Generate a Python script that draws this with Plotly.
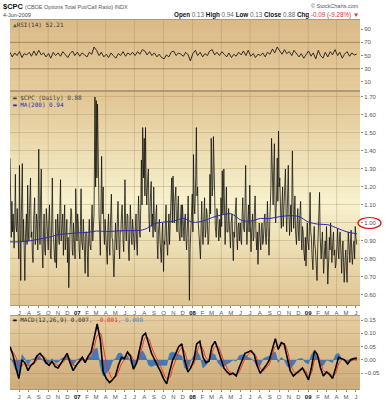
import plotly.graph_objects as go
import pandas as pd

# ---------------- data ----------------
START, END = "2006-06-02", "2009-06-04"
X_RANGE = ["2006-06-02", "2009-06-14"]

cpc_daily = [
    1.36, 1.05, 0.92, 1.12, 0.95, 1.05, 0.86, 1.00, 1.27, 0.98, 0.95, 1.08, 0.88, 0.80,  # Jun 06
    1.32, 0.95, 0.68, 1.05, 1.33, 0.90, 1.02, 0.85, 0.68, 0.92, 1.05, 0.88, 1.21, 0.95,  # Jul
    0.90, 1.08, 1.25, 0.92, 0.95, 0.82, 0.78, 1.02, 1.14, 0.88, 0.92, 1.05, 1.00, 0.85,  # Aug
    1.41, 1.02, 0.88, 1.15, 1.30, 0.90, 0.75, 0.95, 1.05, 0.85, 0.82, 1.08, 0.98, 0.88,  # Sep
    0.85, 1.02, 1.10, 0.82, 0.80, 1.00, 1.25, 0.95, 0.92, 0.80, 0.78, 1.02, 0.75, 0.90,  # Oct
    1.05, 0.92, 0.88, 1.08, 1.24, 0.90, 0.95, 1.05, 0.82, 0.98, 1.10, 0.85, 0.90, 1.02,  # Nov
    0.78, 0.92, 0.64, 0.88, 0.95, 1.08, 1.05, 0.85, 0.82, 1.00, 0.92, 0.80, 1.19, 0.95,  # Dec
    0.90, 1.05, 1.00, 0.85, 0.80, 0.98, 1.19, 0.90, 0.85, 1.02, 0.92, 0.80, 0.72, 0.95,  # Jan 07
    0.95, 0.82, 0.70, 0.92, 1.02, 0.88, 0.85, 1.00, 1.10, 0.90, 0.95, 1.05, 1.70, 1.20,  # Feb
    1.68, 1.25, 1.66, 1.30, 1.04, 0.95, 0.82, 1.10, 1.37, 1.05, 1.20, 0.95, 0.88, 1.02,  # Mar
    0.95, 0.85, 0.77, 0.98, 1.05, 0.88, 0.82, 1.00, 1.16, 0.92, 0.90, 0.80, 0.70, 0.88,  # Apr
    1.00, 0.90, 0.85, 1.02, 1.12, 0.88, 0.80, 0.95, 0.95, 1.05, 1.10, 0.90, 0.84, 1.00,  # May
    1.24, 0.98, 0.90, 1.05, 1.04, 0.85, 0.79, 0.95, 1.10, 0.92, 0.88, 1.02, 0.95, 0.85,  # Jun
    0.85, 0.98, 1.05, 0.88, 0.82, 1.00, 1.15, 0.95, 0.92, 1.10, 1.35, 1.10, 1.53, 1.25,  # Jul
    1.47, 1.15, 1.53, 1.20, 1.10, 1.25, 1.30, 1.02, 0.95, 1.12, 1.23, 0.98, 1.05, 0.92,  # Aug
    1.20, 0.98, 0.95, 1.05, 1.10, 0.88, 0.80, 0.95, 1.02, 0.90, 0.85, 0.78, 0.92, 1.00,  # Sep
    0.73, 0.90, 0.88, 1.00, 1.10, 0.90, 0.82, 0.95, 1.05, 0.88, 0.95, 1.10, 1.25, 1.00,  # Oct
    1.26, 1.05, 1.00, 1.12, 1.20, 0.98, 0.95, 1.08, 1.15, 0.95, 0.90, 1.02, 1.10, 0.92,  # Nov
    1.10, 0.98, 0.90, 1.02, 1.05, 0.92, 0.85, 1.00, 1.15, 0.92, 0.57, 0.85, 0.95, 1.08,  # Dec
    1.16, 0.95, 1.38, 1.10, 1.05, 1.25, 1.53, 1.15, 1.20, 1.00, 0.92, 0.88, 0.80, 0.98,  # Jan 08
    1.12, 0.95, 0.88, 1.05, 1.14, 0.92, 0.95, 1.08, 1.05, 0.88, 0.90, 1.02, 1.27, 1.05,  # Feb
    1.47, 1.15, 1.20, 1.48, 1.25, 1.14, 0.98, 0.92, 1.08, 1.05, 0.95, 0.90, 1.02, 0.92,  # Mar
    1.14, 0.98, 1.29, 1.05, 1.30, 1.00, 0.88, 1.02, 1.20, 0.95, 0.95, 1.08, 1.00, 0.90,  # Apr
    0.86, 1.00, 1.05, 0.90, 0.79, 0.95, 0.92, 1.05, 1.14, 0.92, 0.85, 0.98, 1.00, 0.90,  # May
    1.00, 0.90, 0.88, 1.05, 1.14, 0.98, 0.95, 1.10, 1.32, 1.00, 0.88, 0.98, 1.10, 0.95,  # Jun
    1.21, 0.98, 0.84, 0.95, 1.05, 0.90, 0.92, 1.08, 1.15, 0.92, 0.85, 0.95, 0.77, 0.90,  # Jul
    1.00, 0.90, 0.85, 0.98, 1.00, 0.88, 0.90, 1.02, 1.05, 0.92, 0.88, 0.98, 1.12, 0.92,  # Aug
    0.82, 0.98, 1.05, 1.20, 1.47, 1.15, 1.10, 1.30, 1.44, 1.10, 1.00, 1.15, 1.36, 1.12,  # Sep
    1.51, 1.20, 1.25, 1.05, 0.97, 1.10, 1.20, 0.98, 1.05, 1.15, 1.30, 1.05, 0.95, 1.08,  # Oct
    1.32, 1.05, 0.93, 1.02, 1.10, 0.95, 1.40, 1.12, 0.97, 1.05, 1.15, 0.95, 0.88, 1.00,  # Nov
    1.08, 0.95, 0.90, 1.02, 1.12, 0.92, 0.85, 0.98, 0.95, 0.85, 0.79, 0.92, 0.76, 0.88,  # Dec
    1.00, 0.90, 0.85, 0.98, 1.17, 0.95, 0.92, 0.82, 0.74, 0.90, 0.98, 0.88, 0.85, 0.78,  # Jan 09
    0.68, 0.85, 0.95, 1.05, 1.17, 0.92, 0.80, 0.88, 0.95, 0.82, 0.72, 0.85, 0.90, 0.80,  # Feb
    0.98, 0.82, 0.66, 0.80, 0.92, 0.85, 1.00, 0.88, 0.78, 0.90, 0.95, 0.82, 0.85, 0.75,  # Mar
    0.77, 0.88, 0.97, 0.85, 0.80, 0.92, 0.95, 0.82, 0.72, 0.85, 0.90, 0.78, 0.67, 0.80,  # Apr
    0.85, 0.75, 0.67, 0.82, 0.95, 0.85, 0.78, 0.90, 0.96, 0.82, 0.77, 0.88, 0.90, 0.80,  # May
    0.98, 0.92, 0.88,                                                                    # Jun 09
]

ma200 = [
    0.895, 0.895, 0.900, 0.910, 0.920, 0.935, 0.940, 0.945, 0.947, 0.955,
    0.952, 0.955, 0.957, 0.957, 0.965, 0.995, 1.005, 1.010, 1.025, 1.004,
    1.010, 1.030, 1.045, 1.050, 1.015, 1.010, 1.025, 1.025, 1.035, 1.040,
    1.035, 1.005, 0.993, 0.990, 0.970, 0.950, 0.940,
]

rsi14 = [
    55, 48, 54, 50,  56, 47, 53, 51,  55, 49, 57, 50,  58, 51, 54, 48,
    53, 46, 55, 50,  54, 49, 56, 51,  47, 53, 57, 50,  55, 49, 54, 51,
    48, 55, 52, 63,  58, 50, 55, 48,  52, 47, 54, 50,  46, 53, 50, 56,
    49, 54, 51, 55,  50, 56, 52, 59,  57, 51, 56, 50,  54, 48, 52, 47,
    45, 51, 48, 55,  57, 50, 54, 52,  49, 55, 51, 42,  53, 58, 50, 55,
    48, 53, 50, 57,  59, 51, 55, 50,  56, 52, 48, 54,  47, 52, 49, 55,
    51, 57, 50, 58,  49, 53, 47, 52,  50, 54, 48, 55,  52, 60, 54, 63,
    57, 52, 59, 53,  56, 50, 58, 52,  48, 53, 46, 51,  57, 49, 54, 45,
    58, 50, 46, 55,  48, 56, 51, 59,  50, 55, 46, 52,  56, 49, 54, 51,
    52.21,
]

macd_line = [
    0.050, 0.020, -0.030, -0.070, 0.000, -0.010, -0.040, -0.020, -0.010, 0.015,
    0.025, 0.010, -0.010, -0.020, -0.005, -0.025, -0.030, -0.010, 0.005, 0.025,
    -0.010, -0.040, -0.020, -0.005, 0.010, -0.010, 0.015, 0.030, 0.090, 0.135,
    0.075, -0.045, -0.070, -0.085, -0.075, -0.060, -0.020, 0.010, 0.005, 0.030,
    0.015, -0.035, -0.010, 0.040, 0.090, 0.100, 0.060, 0.025, 0.000, -0.020,
    -0.045, -0.070, -0.090, -0.040, 0.000, 0.025, 0.050, 0.060, 0.000, -0.045,
    -0.030, 0.000, 0.060, 0.070, 0.010, -0.010, -0.005, 0.050, 0.070, 0.040,
    0.000, -0.030, -0.045, -0.055, -0.050, -0.060, -0.030, 0.000, 0.025, 0.030,
    0.035, 0.020, -0.020, -0.050, -0.035, -0.020, 0.000, 0.040, 0.080, 0.040,
    0.065, 0.060, 0.010, -0.040, -0.060, -0.050, -0.040, -0.030, -0.050, -0.075,
    -0.030, 0.035, 0.020, -0.030, -0.060, -0.045, -0.055, -0.070, -0.030, 0.010,
    0.005, 0.000, -0.015, 0.000, 0.005, 0.007,
]

macd_signal = [
    0.040, 0.030, 0.010, -0.020, -0.020, -0.015, -0.020, -0.020, -0.015, 0.000,
    0.015, 0.015, 0.005, -0.010, -0.010, -0.015, -0.020, -0.015, -0.005, 0.010,
    0.005, -0.020, -0.020, -0.010, 0.000, 0.000, 0.005, 0.020, 0.050, 0.090,
    0.100, 0.050, -0.010, -0.050, -0.070, -0.065, -0.045, -0.015, 0.000, 0.015,
    0.020, 0.000, -0.010, 0.015, 0.055, 0.085, 0.080, 0.050, 0.020, 0.000,
    -0.025, -0.050, -0.070, -0.065, -0.030, 0.000, 0.030, 0.045, 0.030, -0.010,
    -0.025, -0.015, 0.025, 0.055, 0.040, 0.010, 0.000, 0.025, 0.050, 0.050,
    0.025, -0.005, -0.030, -0.045, -0.050, -0.055, -0.045, -0.020, 0.005, 0.020,
    0.030, 0.025, 0.005, -0.030, -0.040, -0.030, -0.015, 0.015, 0.050, 0.050,
    0.055, 0.060, 0.035, -0.010, -0.040, -0.050, -0.045, -0.035, -0.040, -0.060,
    -0.050, 0.000, 0.015, -0.005, -0.040, -0.045, -0.050, -0.060, -0.050, -0.015,
    0.000, 0.002, -0.008, -0.005, 0.000, -0.001,
]

macd_hist = [
    0.010, -0.010, -0.040, -0.050, 0.020, 0.005, -0.020, 0.000, 0.005, 0.015,
    0.010, -0.005, -0.015, -0.010, 0.005, -0.010, -0.010, 0.005, 0.010, 0.015,
    -0.015, -0.020, 0.000, 0.005, 0.010, -0.010, 0.010, 0.010, 0.040, 0.045,
    -0.025, -0.060, -0.050, -0.035, -0.005, 0.005, 0.025, 0.025, 0.005, 0.015,
    -0.005, -0.035, 0.000, 0.025, 0.035, 0.015, -0.020, -0.025, -0.020, -0.020,
    -0.020, -0.020, -0.020, 0.025, 0.030, 0.025, 0.020, 0.015, -0.030, -0.035,
    -0.005, 0.015, 0.035, 0.015, -0.030, -0.020, -0.005, 0.025, 0.020, -0.010,
    -0.025, -0.025, -0.015, -0.010, 0.000, -0.005, 0.015, 0.020, 0.020, 0.010,
    0.005, -0.005, -0.025, -0.020, 0.005, 0.010, 0.015, 0.025, 0.030, -0.010,
    0.010, 0.000, -0.025, -0.030, -0.020, 0.000, 0.005, 0.005, -0.010, -0.015,
    0.020, 0.035, 0.005, -0.025, -0.020, 0.000, -0.005, -0.010, 0.020, 0.025,
    0.005, -0.002, -0.007, 0.005, 0.005, 0.008,
]

month_labels = [
    "J", "A", "S", "O", "N", "D",
    "<span style='color:#111'><b>07</b></span>", "F", "M", "A", "M", "J",
    "J", "A", "S", "O", "N", "D",
    "<span style='color:#111'><b>08</b></span>", "F", "M", "A", "M", "J",
    "J", "A", "S", "O", "N", "D",
    "<span style='color:#111'><b>09</b></span>", "F", "M", "A", "M", "J",
]
price_ticks = [0.60, 0.70, 0.80, 0.90, 1.00, 1.10, 1.20, 1.30, 1.40, 1.50, 1.60, 1.70]
rsi_ticks = [10, 30, 50, 70, 90]
rsi_bands = [30, 70]
macd_ticks = [-0.05, 0.00, 0.05, 0.10, 0.15]

# ---------------- geometry helpers ----------------
W, H = 388, 400


def px(x):
    return x / W


def py(y):
    return 1 - y / H


def series_dates(values):
    return [d.strftime("%Y-%m-%d") for d in pd.date_range(START, END, periods=len(values))]


month_ticks = [d.strftime("%Y-%m-%d") for d in pd.date_range("2006-07-01", periods=len(month_labels), freq="MS")]
quarter_ticks = [d.strftime("%Y-%m-%d") for d in pd.date_range("2006-07-01", "2009-04-01", freq="QS")]

XD = [px(10), px(360)]
RSI_TOP, RSI_BOT = 20, 91
MAIN_TOP, MAIN_BOT = 91, 305
MACD_TOP, MACD_BOT = 316, 389

fig = go.Figure()

fig.add_trace(go.Scatter(x=series_dates(rsi14), y=rsi14, xaxis="x", yaxis="y", mode="lines",
                         line=dict(color="#1c1c1c", width=0.9), hoverinfo="skip"))
fig.add_trace(go.Scatter(x=series_dates(cpc_daily), y=cpc_daily, xaxis="x2", yaxis="y2", mode="lines",
                         line=dict(color="rgba(15,15,10,0.85)", width=0.9), hoverinfo="skip"))
fig.add_trace(go.Scatter(x=series_dates(ma200), y=ma200, xaxis="x2", yaxis="y2", mode="lines",
                         line=dict(color="#2a2ab4", width=1, shape="spline"), hoverinfo="skip"))
fig.add_trace(go.Scatter(x=series_dates(macd_hist), y=macd_hist, xaxis="x3", yaxis="y3", mode="lines",
                         fill="tozeroy", fillcolor="rgba(40,110,190,0.85)",
                         line=dict(color="rgba(40,110,190,0.9)", width=0.5), hoverinfo="skip"))
fig.add_trace(go.Scatter(x=series_dates(macd_signal), y=macd_signal, xaxis="x3", yaxis="y3", mode="lines",
                         line=dict(color="#ee3322", width=1, shape="spline"), hoverinfo="skip"))
fig.add_trace(go.Scatter(x=series_dates(macd_line), y=macd_line, xaxis="x3", yaxis="y3", mode="lines",
                         line=dict(color="#000000", width=1.6), hoverinfo="skip"))

# ---------------- backgrounds (vertical gradients) ----------------
def lerp(c0, c1, t):
    return tuple(round(a + (b - a) * t) for a, b in zip(c0, c1))


def grad_color(stops, t):
    for (t0, c0), (t1, c1) in zip(stops[:-1], stops[1:]):
        if t0 <= t <= t1:
            return "rgb(%d,%d,%d)" % lerp(c0, c1, (t - t0) / (t1 - t0))
    return "rgb(%d,%d,%d)" % stops[-1][1]


shapes = []


def gradient(top, bot, stops, n=40):
    for i in range(n):
        t0, t1 = i / n, (i + 1) / n
        y0 = top + (bot - top) * t0
        y1 = top + (bot - top) * t1 + 0.6
        shapes.append(dict(type="rect", xref="paper", yref="paper", layer="below",
                           x0=XD[0], x1=XD[1], y0=py(min(y1, bot)), y1=py(y0),
                           fillcolor=grad_color(stops, (t0 + t1) / 2), line=dict(width=0)))


gradient(RSI_TOP, RSI_BOT, [(0, (219, 186, 136)), (1, (229, 203, 156))])
gradient(MAIN_TOP, MAIN_BOT, [(0, (224, 196, 146)), (0.52, (247, 242, 206)), (1, (222, 195, 146))])
gradient(MACD_TOP, MACD_BOT, [(0, (230, 206, 162)), (1, (206, 171, 121))])

grid_col = "rgba(160,128,80,0.30)"
for q in quarter_ticks:
    for xr, yr in (("x", "y domain"), ("x2", "y2 domain"), ("x3", "y3 domain")):
        shapes.append(dict(type="line", xref=xr, yref=yr, x0=q, x1=q, y0=0, y1=1,
                           line=dict(color=grid_col, width=1), layer="below"))
for lvl in rsi_bands:
    shapes.append(dict(type="line", xref="paper", yref="y", x0=XD[0], x1=XD[1], y0=lvl, y1=lvl,
                       line=dict(color="rgba(130,96,56,0.6)", width=1), layer="below"))
# red highlight ellipse around the 1.00 label
shapes.append(dict(type="circle", xref="paper", yref="paper",
                   x0=px(358), x1=px(381), y0=py(228.5), y1=py(217.5),
                   line=dict(color="#e01010", width=1.2)))

# ---------------- axes ----------------
tick_font = dict(family="Liberation Sans", size=6, color="#555")
common_x = dict(type="date", range=X_RANGE, domain=XD, tickvals=month_ticks, ticktext=month_labels,
                showgrid=False, zeroline=False, showline=True, mirror=True, linecolor="#ad9a78",
                linewidth=1, ticks="outside", ticklen=2, tickcolor="#9a8866", tickfont=tick_font,
                fixedrange=True)
common_y = dict(side="right", showline=False, zeroline=False, ticks="outside", ticklen=2,
                tickcolor="#9a8866", tickfont=tick_font, fixedrange=True, gridcolor=grid_col, gridwidth=1)

fig.update_layout(
    width=W, height=H, margin=dict(l=0, r=0, t=0, b=0),
    paper_bgcolor="white", plot_bgcolor="rgba(0,0,0,0)", showlegend=False,
    xaxis=dict(common_x, anchor="y", showticklabels=False, ticks=""),
    xaxis2=dict(common_x, anchor="y2", matches="x"),
    xaxis3=dict(common_x, anchor="y3", matches="x"),
    yaxis=dict(common_y, anchor="x", domain=[py(RSI_BOT), py(RSI_TOP)], range=[-3.8, 104],
               tickvals=rsi_ticks, showgrid=False),
    yaxis2=dict(common_y, anchor="x2", domain=[py(MAIN_BOT), py(MAIN_TOP)], range=[0.544, 1.733],
                tickvals=price_ticks, tickformat=".2f", showgrid=True),
    yaxis3=dict(common_y, anchor="x3", domain=[py(MACD_BOT), py(MACD_TOP)], range=[-0.109, 0.165],
                tickvals=macd_ticks, tickformat=".2f", showgrid=True),
    shapes=shapes,
)

# ---------------- texts ----------------
anns = []


def note(x, y, text, size=6, color="#333", family="Liberation Sans", anchor="left"):
    anns.append(dict(x=px(x), y=py(y), xref="paper", yref="paper", text=text, showarrow=False,
                     xanchor=anchor, yanchor="middle", font=dict(family=family, size=size, color=color)))


note(1, 6, "<b>$CPC</b> <span style='font-size:5.5px;color:#555'>(CBOE Options Total Put/Call Ratio) INDX</span>",
     size=7.5, color="#111")
note(361, 6, "© StockCharts.com", size=5.5, color="#555", anchor="right")
note(1, 15, "4-Jun-2009", size=5.5, color="#444")
note(361, 15,
     "<b>Open</b> <span style='color:#666'>0.13</span> <b>High</b> <span style='color:#666'>0.94</span> "
     "<b>Low</b> <span style='color:#666'>0.13</span> <b>Close</b> <span style='color:#666'>0.88</span> "
     "<b>Chg</b> <span style='color:#e03030'>-0.09 (-9.28%) ▼</span>",
     size=6.3, color="#111", anchor="right")
mono = "DejaVu Sans Mono"
note(11, 24, "<span style='color:#2f6d2a'>▲</span>RSI(14) 52.21", size=6, color="#333", family=mono)
note(11, 97.5, "▬ $CPC (Daily) 0.88", size=6, color="#444", family=mono)
note(11, 104, "<span style='color:#2a2ab4'>▬ MA(200) 0.94</span>", size=6, color="#2a2ab4", family=mono)
note(11, 319.5, "<span style='color:#111'>▬</span> MACD(12,26,9) 0.007<span style='color:#e03030'>, -0.001</span>"
     "<span style='color:#4a86c8'>, 0.008</span>", size=6, color="#333", family=mono)

fig.update_layout(annotations=anns)

fig.write_html("out.html", config={"displayModeBar": False},
               post_script="document.body.style.margin='0';document.body.style.padding='0';"
                           "document.body.style.overflow='hidden';")
